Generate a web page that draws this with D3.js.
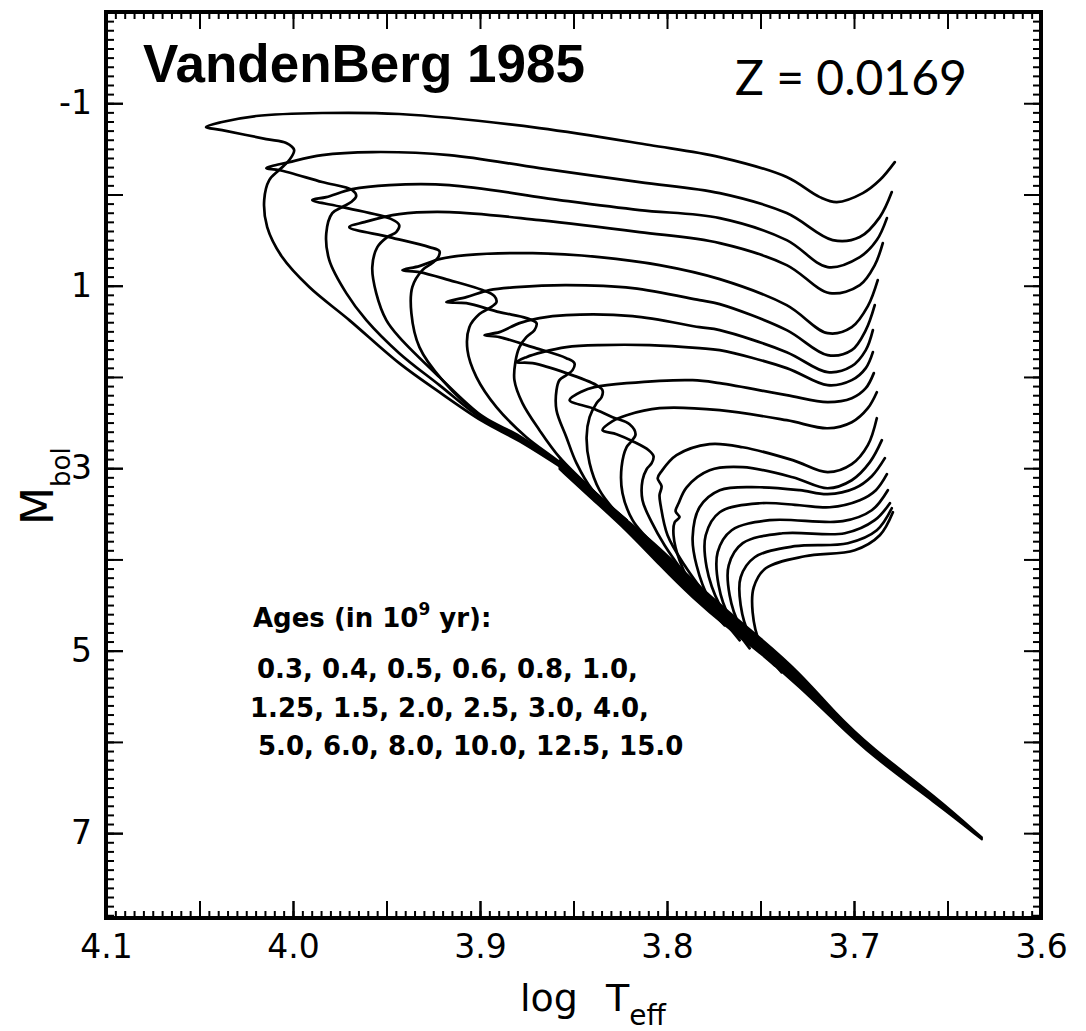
<!DOCTYPE html>
<html><head><meta charset="utf-8">
<script src="https://cdn.jsdelivr.net/npm/d3@7"></script>
<style>body{margin:0;background:#fff}</style>
</head><body>
<svg id="chart" width="1086" height="1031"></svg>
<script>
// ---------- data (log Teff, Mbol) ----------
const ages = ["0.3","0.4","0.5","0.6","0.8","1.0","1.25","1.5","2.0","2.5","3.0","4.0","5.0","6.0","8.0","10.0","12.5","15.0"];

const iso03 = [[3.8575,2.978],[3.8789,2.704],[3.8987,2.485],[3.9217,2.167],[3.9432,1.849],[3.9699,1.377],[3.9913,1.015],[4.0058,0.686],[4.0138,0.358],[4.0154,0.061],[4.0127,-0.158],[4.0074,-0.268],[4.0020,-0.377],[3.9994,-0.487],[4.0036,-0.564],[4.0143,-0.607],[4.0379,-0.706],[4.0465,-0.739],[4.0379,-0.794],[4.0197,-0.860],[3.9844,-0.893],[3.9432,-0.882],[3.8682,-0.728],[3.8093,-0.542],[3.7718,-0.410],[3.7360,-0.191],[3.7183,0.029],[3.7092,0.083],[3.6953,-0.015],[3.6862,-0.158],[3.6782,-0.355]];
const iso04 = [[3.8575,2.967],[3.8789,2.682],[3.8987,2.463],[3.9217,2.090],[3.9432,1.739],[3.9608,1.377],[3.9715,1.081],[3.9806,0.719],[3.9822,0.423],[3.9790,0.204],[3.9737,0.138],[3.9689,0.083],[3.9662,0.018],[3.9683,-0.048],[3.9844,-0.136],[4.0074,-0.268],[4.0143,-0.289],[4.0020,-0.355],[3.9844,-0.432],[3.9576,-0.465],[3.9164,-0.432],[3.8682,-0.289],[3.8147,-0.136],[3.7718,-0.015],[3.7360,0.204],[3.7114,0.500],[3.6969,0.467],[3.6862,0.248],[3.6798,-0.026]];
const iso05 = [[3.8575,2.956],[3.8789,2.649],[3.8987,2.430],[3.9217,2.002],[3.9432,1.564],[3.9501,1.377],[3.9555,1.081],[3.9576,0.796],[3.9549,0.577],[3.9496,0.467],[3.9448,0.412],[3.9432,0.336],[3.9474,0.270],[3.9737,0.138],[3.9897,0.061],[3.9822,0.029],[3.9683,-0.059],[3.9485,-0.103],[3.9164,-0.103],[3.8575,0.061],[3.8147,0.171],[3.7718,0.259],[3.7360,0.500],[3.7141,0.796],[3.6969,0.686],[3.6878,0.500],[3.6824,0.259]];
const iso06 = [[3.8575,2.945],[3.8789,2.660],[3.8987,2.441],[3.9201,2.035],[3.9324,1.673],[3.9367,1.300],[3.9362,1.015],[3.9308,0.829],[3.9255,0.752],[3.9223,0.686],[3.9217,0.621],[3.9271,0.577],[3.9485,0.467],[3.9699,0.358],[3.9619,0.303],[3.9432,0.215],[3.9164,0.193],[3.8682,0.281],[3.8147,0.412],[3.7718,0.533],[3.7360,0.774],[3.7130,1.081],[3.6969,0.993],[3.6889,0.774],[3.6846,0.533]];
const iso08 = [[3.8398,3.252],[3.8575,2.934],[3.8752,2.660],[3.8912,2.331],[3.9019,2.002],[3.9067,1.706],[3.9057,1.454],[3.9003,1.311],[3.8950,1.246],[3.8912,1.180],[3.8923,1.114],[3.8987,1.048],[3.9164,0.939],[3.9324,0.851],[3.9415,0.829],[3.9324,0.785],[3.9217,0.708],[3.9073,0.664],[3.8719,0.643],[3.8361,0.686],[3.8040,0.774],[3.7718,0.928],[3.7360,1.213],[3.7141,1.520],[3.7012,1.454],[3.6926,1.224],[3.6873,0.939]];
const iso10 = [[3.8216,3.570],[3.8398,3.241],[3.8575,2.880],[3.8682,2.583],[3.8773,2.287],[3.8816,2.035],[3.8811,1.838],[3.8789,1.673],[3.8752,1.564],[3.8709,1.487],[3.8698,1.410],[3.8752,1.355],[3.8896,1.290],[3.9073,1.191],[3.9180,1.180],[3.9073,1.125],[3.8950,1.048],[3.8805,1.015],[3.8538,0.993],[3.8184,1.026],[3.7826,1.158],[3.7718,1.202],[3.7360,1.487],[3.7141,1.761],[3.7012,1.706],[3.6937,1.487],[3.6889,1.213]];
const iso125 = [[3.8216,3.570],[3.8398,3.241],[3.8484,2.945],[3.8538,2.660],[3.8591,2.364],[3.8591,2.145],[3.8575,2.035],[3.8538,1.980],[3.8505,1.925],[3.8495,1.849],[3.8538,1.794],[3.8719,1.673],[3.8896,1.564],[3.8976,1.542],[3.8896,1.509],[3.8789,1.410],[3.8682,1.355],[3.8538,1.322],[3.8184,1.333],[3.7826,1.454],[3.7718,1.487],[3.7360,1.728],[3.7141,1.947],[3.7012,1.882],[3.6937,1.706],[3.6899,1.487]];
const iso15 = [[3.8120,3.790],[3.8281,3.461],[3.8361,3.241],[3.8414,2.945],[3.8430,2.660],[3.8414,2.441],[3.8377,2.287],[3.8350,2.222],[3.8345,2.145],[3.8377,2.090],[3.8538,1.958],[3.8719,1.849],[3.8805,1.838],[3.8752,1.783],[3.8666,1.728],[3.8538,1.673],[3.8361,1.651],[3.8093,1.651],[3.7826,1.684],[3.7718,1.706],[3.7360,1.903],[3.7141,2.090],[3.7012,2.035],[3.6937,1.903],[3.6899,1.728]];
const iso20 = [[3.8013,3.954],[3.8120,3.735],[3.8184,3.570],[3.8238,3.274],[3.8243,2.989],[3.8216,2.770],[3.8190,2.704],[3.8168,2.627],[3.8200,2.518],[3.8291,2.441],[3.8398,2.342],[3.8521,2.254],[3.8452,2.156],[3.8388,2.112],[3.8216,2.068],[3.7863,2.035],[3.7718,2.068],[3.7360,2.200],[3.7141,2.276],[3.7012,2.233],[3.6937,2.123],[3.6894,1.958]];
const iso25 = [[3.7863,4.283],[3.8013,3.844],[3.8082,3.592],[3.8131,3.351],[3.8131,3.132],[3.8109,3.011],[3.8082,2.945],[3.8072,2.869],[3.8098,2.803],[3.8184,2.704],[3.8270,2.627],[3.8345,2.583],[3.8291,2.485],[3.8216,2.419],[3.8040,2.342],[3.7718,2.364],[3.7360,2.474],[3.7141,2.562],[3.7012,2.496],[3.6926,2.342],[3.6878,2.167]];
const iso30 = [[3.7772,4.447],[3.7906,4.064],[3.7997,3.735],[3.8034,3.406],[3.8040,3.296],[3.8029,3.198],[3.8050,3.110],[3.8029,3.033],[3.7949,2.858],[3.7772,2.737],[3.7595,2.770],[3.7328,2.912],[3.7141,3.044],[3.7012,2.956],[3.6926,2.748],[3.6878,2.452]];
const iso40 = [[3.7692,4.722],[3.7852,4.338],[3.7933,4.009],[3.7965,3.735],[3.7959,3.592],[3.7933,3.537],[3.7954,3.472],[3.7938,3.384],[3.7895,3.209],[3.7772,3.022],[3.7595,2.989],[3.7328,3.099],[3.7141,3.220],[3.7012,3.132],[3.6915,2.934],[3.6851,2.693]];
const iso50 = [[3.7611,4.886],[3.7772,4.447],[3.7842,4.064],[3.7863,3.757],[3.7826,3.428],[3.7718,3.241],[3.7504,3.209],[3.7290,3.241],[3.7141,3.285],[3.6996,3.220],[3.6905,3.088],[3.6835,2.890]];
const iso60 = [[3.7558,4.974],[3.7718,4.502],[3.7788,4.086],[3.7793,3.735],[3.7718,3.483],[3.7504,3.384],[3.7290,3.406],[3.7130,3.428],[3.6969,3.351],[3.6883,3.241],[3.6824,3.066]];
const iso80 = [[3.7504,5.018],[3.7665,4.634],[3.7724,4.283],[3.7729,3.921],[3.7654,3.680],[3.7451,3.570],[3.7060,3.581],[3.6905,3.461],[3.6819,3.241]];
const iso100 = [[3.7462,5.083],[3.7611,4.722],[3.7665,4.393],[3.7670,4.064],[3.7595,3.822],[3.7381,3.713],[3.7049,3.713],[3.6889,3.570],[3.6808,3.384]];
const iso125b = [[3.7424,5.160],[3.7558,4.831],[3.7606,4.502],[3.7606,4.195],[3.7531,3.976],[3.7317,3.855],[3.7033,3.822],[3.6878,3.680],[3.6798,3.439]];
const iso150 = [[3.7387,5.237],[3.7504,4.908],[3.7542,4.579],[3.7536,4.305],[3.7472,4.097],[3.7263,3.965],[3.6996,3.899],[3.6862,3.735],[3.6792,3.483]];

const isochrones = [iso03, iso04, iso05, iso06, iso08, iso10, iso125, iso15, iso20, iso25, iso30, iso40, iso50, iso60, iso80, iso100, iso125b, iso150];

// common lower main sequence (where all isochrones overlap): upper and lower edge
const msBandTeff  = [3.8575,3.8398,3.8216,3.8040,3.7863,3.7681,3.7504,3.7290,3.7103,3.6915,3.6557,3.6316];
const msBandUpper = [2.912,3.241,3.570,3.866,4.228,4.557,4.853,5.237,5.676,6.048,6.608,7.046];
const msBandLower = [3.010,3.345,3.680,4.064,4.425,4.743,5.018,5.400,5.770,6.140,6.680,7.070];

const xTickLabels = [4.1, 4.0, 3.9, 3.8, 3.7, 3.6];
const yTickLabels = [-1, 1, 3, 5, 7];
const ageLines = ["0.3, 0.4, 0.5, 0.6, 0.8, 1.0,", "1.25, 1.5, 2.0, 2.5, 3.0, 4.0,", "5.0, 6.0, 8.0, 10.0, 12.5, 15.0"];

// ---------- layout ----------
const svg = d3.select("#chart");
const L = 106, R = 1041, T = 12, B = 918;
const x = d3.scaleLinear().domain([4.1, 3.6]).range([L, R]);
const y = d3.scaleLinear().domain([-2, 7.93]).range([T, B]);

// MS band
const band = msBandTeff.map((t, i) => ({t, up: msBandUpper[i], lo: msBandLower[i]}));
svg.append("path")
  .attr("d", d3.area().x(d => x(d.t)).y0(d => y(d.lo)).y1(d => y(d.up)).curve(d3.curveBasis)(band))
  .attr("fill", "#000").attr("stroke", "#000").attr("stroke-width", 2).attr("stroke-linejoin", "round");

// isochrones
const line = d3.line().x(d => x(d[0])).y(d => y(d[1])).curve(d3.curveCatmullRom.alpha(0.5));
svg.append("g").selectAll("path").data(isochrones).join("path")
  .attr("d", line).attr("fill", "none").attr("stroke", "#000")
  .attr("stroke-width", 2.7).attr("stroke-linejoin", "round").attr("stroke-linecap", "round");

// ---------- axes ----------
const xMajor = d3.range(0, 11).map(i => +(3.6 + i * 0.05).toFixed(2));
const xMinor = d3.range(0, 101).map(i => +(3.6 + i * 0.005).toFixed(3));
const yMajor = d3.range(-1, 8);
const yMinor = d3.range(0, 100).map(i => +(-2 + i * 0.1).toFixed(1));

function styleAxis(g, w) {
  g.select(".domain").remove();
  g.selectAll(".tick line").attr("stroke", "#000").attr("stroke-width", w);
}
const fmt = d3.format(".1f");
const labelStyle = g => g.selectAll("text").attr("font-family", "DejaVu Sans").attr("font-size", 33).attr("fill", "#000");
// bottom
svg.append("g").attr("transform", `translate(0,${B})`)
  .call(d3.axisBottom(x).tickValues(xMinor).tickSize(-7).tickFormat("")).call(g => styleAxis(g, 2));
svg.append("g").attr("transform", `translate(0,${B})`)
  .call(d3.axisBottom(x).tickValues(xMajor).tickSize(-17).tickFormat("")).call(g => styleAxis(g, 2));
svg.append("g").attr("transform", `translate(0,${B})`)
  .call(d3.axisBottom(x).tickValues(xTickLabels).tickSize(-17).tickPadding(17).tickFormat(fmt))
  .call(g => { styleAxis(g, 2); labelStyle(g); });
// top
svg.append("g").attr("transform", `translate(0,${T})`)
  .call(d3.axisTop(x).tickValues(xMinor).tickSize(-7).tickFormat("")).call(g => styleAxis(g, 2));
svg.append("g").attr("transform", `translate(0,${T})`)
  .call(d3.axisTop(x).tickValues(xMajor).tickSize(-17).tickFormat("")).call(g => styleAxis(g, 2));
// left
svg.append("g").attr("transform", `translate(${L},0)`)
  .call(d3.axisLeft(y).tickValues(yMinor).tickSize(-8).tickFormat("")).call(g => styleAxis(g, 2));
svg.append("g").attr("transform", `translate(${L},0)`)
  .call(d3.axisLeft(y).tickValues(yMajor).tickSize(-17).tickFormat("")).call(g => styleAxis(g, 2));
svg.append("g").attr("transform", `translate(${L},0)`)
  .call(d3.axisLeft(y).tickValues(yTickLabels).tickSize(-17).tickPadding(14).tickFormat(d => String(d)))
  .call(g => { styleAxis(g, 2); labelStyle(g); });
// right
svg.append("g").attr("transform", `translate(${R},0)`)
  .call(d3.axisRight(y).tickValues(yMinor).tickSize(-8).tickFormat("")).call(g => styleAxis(g, 2));
svg.append("g").attr("transform", `translate(${R},0)`)
  .call(d3.axisRight(y).tickValues(yMajor).tickSize(-17).tickFormat("")).call(g => styleAxis(g, 2));

// frame
svg.append("rect").attr("x", L).attr("y", T).attr("width", R - L).attr("height", B - T)
  .attr("fill", "none").attr("stroke", "#000").attr("stroke-width", 4);

// ---------- texts ----------
svg.append("text").attr("x", 143).attr("y", 82)
  .attr("font-family", "Liberation Sans, Arial, sans-serif").attr("font-weight", "bold").attr("font-size", 53)
  .text("VandenBerg 1985");
svg.append("text").attr("x", 735).attr("y", 95)
  .attr("font-family", "Lato, sans-serif").attr("font-weight", 400).attr("font-size", 48)
  .text("Z = 0.0169");

const ageFont = {family: "DejaVu Sans", size: 26};
const agesTitle = svg.append("text").attr("x", 253).attr("y", 627)
  .attr("font-family", ageFont.family).attr("font-weight", "bold").attr("font-size", ageFont.size);
agesTitle.append("tspan").text("Ages (in 10");
agesTitle.append("tspan").attr("font-size", 17).attr("dy", -12).text("9");
agesTitle.append("tspan").attr("dy", 12).text(" yr):");
const ageX = [257, 250, 258], ageY = [678, 717, 755];
ageLines.forEach((s, i) => {
  svg.append("text").attr("x", ageX[i]).attr("y", ageY[i])
    .attr("font-family", ageFont.family).attr("font-weight", "bold").attr("font-size", ageFont.size)
    .text(s);
});

// axis titles
svg.append("text").attr("x", 520).attr("y", 1011).attr("font-family", "DejaVu Sans").attr("font-size", 38).text("log");
const tt = svg.append("text").attr("x", 606).attr("y", 1011).attr("font-family", "DejaVu Sans").attr("font-size", 38);
tt.append("tspan").text("T");
tt.append("tspan").attr("font-size", 28).attr("dy", 14).text("eff");

const my = svg.append("text").attr("transform", "translate(53,525) rotate(-90)")
  .attr("font-family", "DejaVu Sans").attr("font-size", 44);
my.append("tspan").text("M");
my.append("tspan").attr("font-size", 26).attr("dy", 17).text("bol");
</script>
</body></html>
